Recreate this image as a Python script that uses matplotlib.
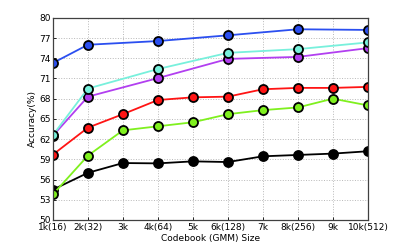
import numpy as np
import matplotlib.pyplot as plt

# codebook sizes and tick labels
x_labels = ['1k(16)', '2k(32)', '3k', '4k(64)', '5k', '6k(128)', '7k', '8k(256)', '9k', '10k(512)']
x_all = [1, 2, 3, 4, 5, 6, 7, 8, 9, 10]
x_part = [1, 2, 4, 6, 8, 10]

blue = [73.3, 76.0, 76.55, 77.4, 78.3, 78.2]
cyan = [62.6, 69.5, 72.4, 74.8, 75.35, 76.35]
purple = [62.5, 68.3, 71.05, 73.9, 74.2, 75.5]
red = [59.7, 63.7, 65.7, 67.8, 68.2, 68.3, 69.4, 69.6, 69.6, 69.75]
green = [53.8, 59.55, 63.3, 63.9, 64.5, 65.7, 66.3, 66.7, 68.0, 67.0]
black = [54.5, 57.0, 58.45, 58.4, 58.7, 58.6, 59.45, 59.65, 59.85, 60.2]

fig = plt.figure(figsize=(4.07, 2.49), dpi=100)
ax = fig.add_axes([0.130, 0.1165, 0.774, 0.812])

style = dict(marker='o', markersize=6.5, markeredgecolor='black', markeredgewidth=1.3, linewidth=1.3)
ax.plot(x_all, black, color='black', markerfacecolor='black', **style)
ax.plot(x_all, green, color='#7ff01e', markerfacecolor='#7ff01e', **style)
ax.plot(x_all, red, color='#ff1414', markerfacecolor='#ff1414', **style)
ax.plot(x_part, purple, color='#b23ff0', markerfacecolor='#b23ff0', **style)
ax.plot(x_part, cyan, color='#78f0dc', markerfacecolor='#78f0dc', **style)
ax.plot(x_part, blue, color='#2b4ff0', markerfacecolor='#2b4ff0', **style)

ax.set_xlim(1, 10)
ax.set_ylim(50, 80)
ax.set_xticks(x_all)
ax.set_xticklabels(x_labels)
ax.set_yticks(np.arange(50, 81, 3))
ax.tick_params(labelsize=6.5, length=2, width=0.6, pad=1.5, direction='in')
ax.tick_params(axis='x', pad=2.5)
ax.grid(True, linestyle=':', color='#b8b8b8', linewidth=0.7)
for s in ax.spines.values():
    s.set_color('#404040')
    s.set_linewidth(0.9)

ax.set_xlabel('Codebook (GMM) Size', fontsize=6.5, labelpad=1)
ax.set_ylabel('Accuracy(%)', fontsize=6.5, labelpad=2)

fig.savefig('out.png', dpi=100)
